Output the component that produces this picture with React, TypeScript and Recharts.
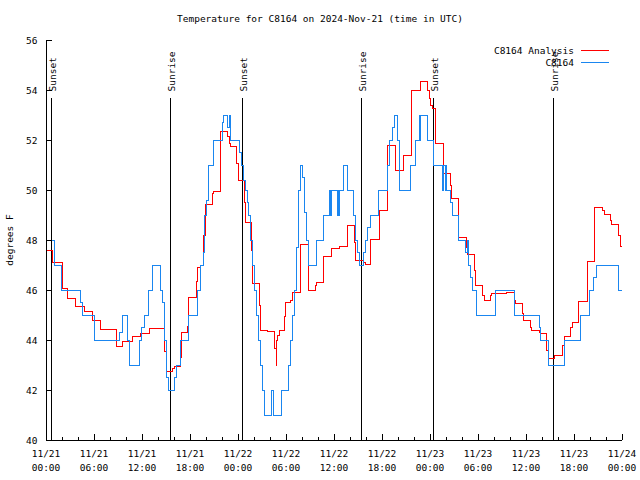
import { ReactElement } from 'react'

import {
   LineChart,
   Line,
   XAxis,
   YAxis,
   ReferenceLine,
   Legend
} from 'recharts'

const chartWidth = 640
const chartHeight = 480
const colorAnalysis = '#ff0000'
const colorObs = '#1a86f0'
const colorInk = '#000'
const fontMono = '"DejaVu Sans Mono", monospace'
const fontSizeText = 9.5
const majorTick = 6
const minorTick = 3

// hours since 11/21 00:00 UTC
const obsHours = [
   0, 1.04, 1.93, 4.37, 4.53, 6.11, 9.23, 9.52, 10.17, 10.48,
   11.73, 11.94, 12.27, 12.85, 13.26, 14.26, 14.51, 14.76, 15.01, 15.26,
   16.01, 16.26, 16.76, 17.76, 18.93, 19.34, 19.68, 19.84, 20.09, 20.34,
   20.93, 22.0, 22.17, 22.67, 22.92, 23.08, 24.21, 24.46, 24.71, 24.95,
   25.21, 25.37, 25.62, 25.87, 26.12, 26.37, 26.62, 26.87, 27.12, 27.37,
   28.2, 28.45, 29.45, 30.36, 30.61, 30.86, 31.11, 31.36, 31.61, 31.78,
   32.01, 32.28, 32.53, 32.76, 33.75, 34.73, 35.45, 35.55, 35.65, 36.47,
   36.56, 36.65, 36.72, 37.22, 37.72, 38.47, 38.72, 38.97, 39.22, 39.72,
   39.97, 40.22, 40.55, 41.59, 42.71, 42.96, 43.3, 43.55, 43.89, 44.17,
   45.55, 46.21, 46.71, 46.78, 46.85, 47.67, 48.48, 49.6, 49.72, 49.91,
   50.0, 50.07, 50.54, 50.82, 51.57, 52.49, 52.66, 52.82, 53.07, 53.32,
   53.84, 56.21, 58.55, 61.7, 61.85, 62.8, 64.82, 66.85, 67.92, 68.42,
   68.75, 71.59, 72
]
const obsTemps = [
   48, 47, 46, 45.5, 45, 44, 44.3, 45, 44, 43,
   44, 44.5, 45, 46, 47, 46, 45.5, 44, 42.5, 42,
   42.5, 43, 44, 45, 46, 47, 47.5, 49, 49.6, 51,
   52, 52.7, 53, 52.5, 53, 52, 51.5, 51, 50.4, 50,
   49.5, 49, 48, 47, 46, 45, 44, 43, 42, 41,
   42, 41, 42, 43, 44, 45, 46, 47.7, 50, 51,
   50.5, 49.1, 48, 47, 48, 49, 50, 49, 50, 49,
   50, 49, 50, 51, 50, 49, 48, 47.5, 47, 47.5,
   48, 48.5, 49, 50, 51, 52, 52.5, 53, 52, 50,
   51, 52, 53, 52, 53, 52, 51, 50, 51, 50,
   51, 50, 49.5, 49, 48, 47.5, 48, 47, 46.5, 46,
   45, 46, 45, 44.5, 44, 43, 44, 45, 46, 46.5,
   47, 46, 46
]

const anaHours = [
   0, 0.81, 2.0, 2.71, 3.71, 4.78, 5.83, 6.78, 8.86, 9.61,
   10.86, 11.85, 12.89, 14.85, 15.01, 15.76, 16.01, 16.85, 16.97, 17.68,
   17.84, 18.75, 18.9, 19.34, 19.68, 19.93, 20.8, 20.93, 21.75, 22.67,
   22.9, 23.08, 23.83, 24.02, 24.77, 24.89, 25.71, 25.87, 26.64, 26.79,
   27.7, 28.61, 28.76, 28.82, 28.99, 29.2, 29.79, 29.95, 30.61, 30.86,
   31.76, 32.76, 33.73, 33.85, 34.71, 35.72, 36.72, 37.68, 38.62, 38.72,
   39.64, 39.89, 40.55, 41.64, 42.74, 43.71, 44.67, 45.71, 46.77, 47.7,
   47.92, 48.08, 48.33, 48.73, 49.66, 50.6, 50.72, 51.57, 52.6, 52.72,
   53.57, 53.72, 54.62, 54.78, 55.57, 55.74, 57.61, 58.52, 58.65, 59.56,
   59.71, 60.58, 60.71, 61.7, 61.85, 62.6, 62.77, 63.58, 64.6, 64.76,
   65.6, 65.8, 66.61, 67.67, 68.59, 69.59, 69.75, 70.59, 70.74, 71.59,
   71.75, 72
]
const anaTemps = [
   47.6, 47.1, 46.07, 45.67, 45.33, 45.13, 44.8, 44.43, 43.75, 43.93,
   44.16, 44.27, 44.45, 43.55, 42.73, 42.87, 42.93, 43.3, 44.3, 44.53,
   45.7, 46.33, 46.9, 47.0, 48.2, 49.44, 49.87, 49.93, 52.33, 52.13,
   51.85, 51.73, 51.07, 50.4, 49.5, 48.7, 47.6, 46.27, 45.4, 44.4,
   44.36, 43.67, 43.0, 44.0, 44.2, 44.4, 44.93, 45.52, 45.6, 45.9,
   47.83, 46.0, 46.2, 46.3, 47.36, 47.67, 47.75, 48.6, 47.9, 47.2,
   47.1, 47.04, 48.03, 49.2, 51.8, 50.8, 51.4, 54.0, 54.33, 54.0,
   53.67, 53.4, 53.27, 51.87, 50.67, 50.2, 49.67, 48.1, 47.7, 47.44,
   46.8, 46.2, 45.8, 45.6, 45.8, 45.87, 45.9, 45.6, 45.47, 45.07,
   44.8, 44.5, 44.38, 44.3, 44.27, 43.6, 43.27, 43.4, 43.8, 44.13,
   44.5, 44.7, 45.53, 47.16, 49.3, 49.2, 49.04, 48.8, 48.64, 48.2,
   47.76, 47.76
]

const seriesNames = ['C8164 Analysis', 'C8164']

const sunsetHours = [0.68, 24.5, 48.45]
const sunriseHours = [15.5, 39.48, 63.45]
const sunLineTop = 53.7

const hourTicks = [
   0, 2, 4, 6, 8, 10, 12, 14, 16, 18, 20, 22, 24, 26, 28, 30, 32, 34, 36,
   38, 40, 42, 44, 46, 48, 50, 52, 54, 56, 58, 60, 62, 64, 66, 68, 70, 72
]
const labelHours = [0, 6, 12, 18, 24, 30, 36, 42, 48, 54, 60, 66, 72]
const dayLabels = [
   '11/21', '11/21', '11/21', '11/21', '11/22', '11/22', '11/22',
   '11/22', '11/23', '11/23', '11/23', '11/23', '11/24'
]
const clockLabels = [
   '00:00', '06:00', '12:00', '18:00', '00:00', '06:00', '12:00',
   '18:00', '00:00', '06:00', '12:00', '18:00', '00:00'
]
const tempTicks = [40, 42, 44, 46, 48, 50, 52, 54, 56]

const obsData = obsHours.map((t, i) => ({ t, v: obsTemps[i] }))
const anaData = anaHours.map((t, i) => ({ t, v: anaTemps[i] }))

const textStyle = { fontFamily: fontMono, fontSize: fontSizeText, fill: colorInk }

const BottomTick = ({ x, y, payload }: any): ReactElement => {
   const idx = labelHours.indexOf(payload.value)
   const major = idx >= 0
   return (
      <g>
         <line x1={ x } y1={ y } x2={ x } y2={ y - (major ? majorTick : minorTick) } stroke={ colorInk } />
         { major && (
            <text x={ x } y={ y + 17 } textAnchor='middle' style={ textStyle }>
               <tspan x={ x } y={ y + 17 }>{ dayLabels[idx] }</tspan>
               <tspan x={ x } y={ y + 31 }>{ clockLabels[idx] }</tspan>
            </text>
         ) }
      </g>
   )
}

const TopTick = ({ x, y, payload }: any): ReactElement => {
   const major = labelHours.includes(payload.value)
   return <line x1={ x } y1={ y } x2={ x } y2={ y + (major ? majorTick : minorTick) } stroke={ colorInk } />
}

const LeftTick = ({ x, y, payload }: any): ReactElement => (
   <g>
      <line x1={ x } y1={ y } x2={ x + majorTick } y2={ y } stroke={ colorInk } />
      <text x={ x - 8.5 } y={ y + 3.5 } textAnchor='end' style={ textStyle }>{ payload.value }</text>
   </g>
)

const RightTick = ({ x, y }: any): ReactElement => (
   <line x1={ x } y1={ y } x2={ x - majorTick } y2={ y } stroke={ colorInk } />
)

const sunLabel = (text: string) => (props: any) => {
   const vb = props.viewBox
   if (!vb) return null
   const lx = vb.x + 4.5
   const ly = vb.y - 6
   return (
      <text x={ lx } y={ ly } transform={ `rotate(-90 ${lx} ${ly})` } textAnchor='start' style={ textStyle }>
         { text }
      </text>
   )
}

const renderLegend = (props: any) => {
   const items = [...(props.payload ?? [])].sort(
      (a: any, b: any) => seriesNames.indexOf(a.value) - seriesNames.indexOf(b.value)
   )
   return (
      <svg width={ chartWidth } height={ 30 } style={{ display: 'block', shapeRendering: 'crispEdges' }}>
         { items.map((item: any, i: number) => {
            const rowY = 10.5 + i * 12
            return (
               <g key={ item.value }>
                  <text x={ 574 } y={ rowY + 3.5 } textAnchor='end' style={ textStyle }>{ item.value }</text>
                  <line x1={ 581 } x2={ 609 } y1={ rowY } y2={ rowY } stroke={ item.color } />
               </g>
            )
         }) }
      </svg>
   )
}

export default function App(): ReactElement {
   return (
      <div style={{ position: 'absolute', left: 0, top: 0, width: chartWidth, height: chartHeight, background: '#fff', shapeRendering: 'crispEdges' }}>
         <div style={{ position: 'absolute', top: 13, left: 0, width: chartWidth, textAlign: 'center', fontFamily: fontMono, fontSize: fontSizeText, lineHeight: '12px', color: colorInk }}>
            Temperature for C8164 on 2024-Nov-21 (time in UTC)
         </div>
         <LineChart
            width={ chartWidth }
            height={ chartHeight }
            margin={{ top: 40, right: 18, bottom: 0, left: 0 }}
         >
            <XAxis
               dataKey='t'
               type='number'
               domain={ [0, 72] }
               ticks={ hourTicks }
               interval={ 0 }
               allowDataOverflow
               height={ 40 }
               tickSize={ 0 }
               tickMargin={ 0 }
               tickLine={ false }
               axisLine={{ stroke: colorInk }}
               tick={ BottomTick }
            />
            <XAxis
               xAxisId='top'
               orientation='top'
               type='number'
               domain={ [0, 72] }
               ticks={ hourTicks }
               interval={ 0 }
               height={ 0 }
               tickSize={ 0 }
               tickMargin={ 0 }
               tickLine={ false }
               axisLine={{ stroke: colorInk }}
               tick={ TopTick }
            />
            <YAxis
               type='number'
               domain={ [40, 56] }
               ticks={ tempTicks }
               interval={ 0 }
               width={ 46 }
               tickSize={ 0 }
               tickMargin={ 0 }
               tickLine={ false }
               axisLine={{ stroke: colorInk }}
               tick={ LeftTick }
               label={{
                  content: () => (
                     <text x={ 13 } y={ 240 } transform='rotate(-90 13 240)' textAnchor='middle' style={ textStyle }>
                        degrees F
                     </text>
                  )
               }}
            />
            <YAxis
               yAxisId='right'
               orientation='right'
               type='number'
               domain={ [40, 56] }
               ticks={ tempTicks }
               interval={ 0 }
               width={ 0 }
               tickSize={ 0 }
               tickMargin={ 0 }
               tickLine={ false }
               axisLine={{ stroke: colorInk }}
               tick={ RightTick }
            />

            { sunsetHours.map((h) => (
               <ReferenceLine
                  key={ `set-${h}` }
                  segment={ [{ x: h, y: 40 }, { x: h, y: sunLineTop }] }
                  stroke={ colorInk }
                  label={ sunLabel('Sunset') }
               />
            )) }
            { sunriseHours.map((h) => (
               <ReferenceLine
                  key={ `rise-${h}` }
                  segment={ [{ x: h, y: 40 }, { x: h, y: sunLineTop }] }
                  stroke={ colorInk }
                  label={ sunLabel('Sunrise') }
               />
            )) }

            <Line
               data={ anaData }
               dataKey='v'
               name={ seriesNames[0] }
               type='stepAfter'
               stroke={ colorAnalysis }
               strokeWidth={ 1 }
               dot={ false }
               activeDot={ false }
               isAnimationActive={ false }
            />
            <Line
               data={ obsData }
               dataKey='v'
               name={ seriesNames[1] }
               type='stepAfter'
               stroke={ colorObs }
               strokeWidth={ 1 }
               dot={ false }
               activeDot={ false }
               isAnimationActive={ false }
            />

            <Legend
               layout='vertical'
               align='center'
               verticalAlign='middle'
               wrapperStyle={{ top: 40, left: 0, width: chartWidth, height: 30 }}
               content={ renderLegend }
            />
         </LineChart>
      </div>
   )
}
